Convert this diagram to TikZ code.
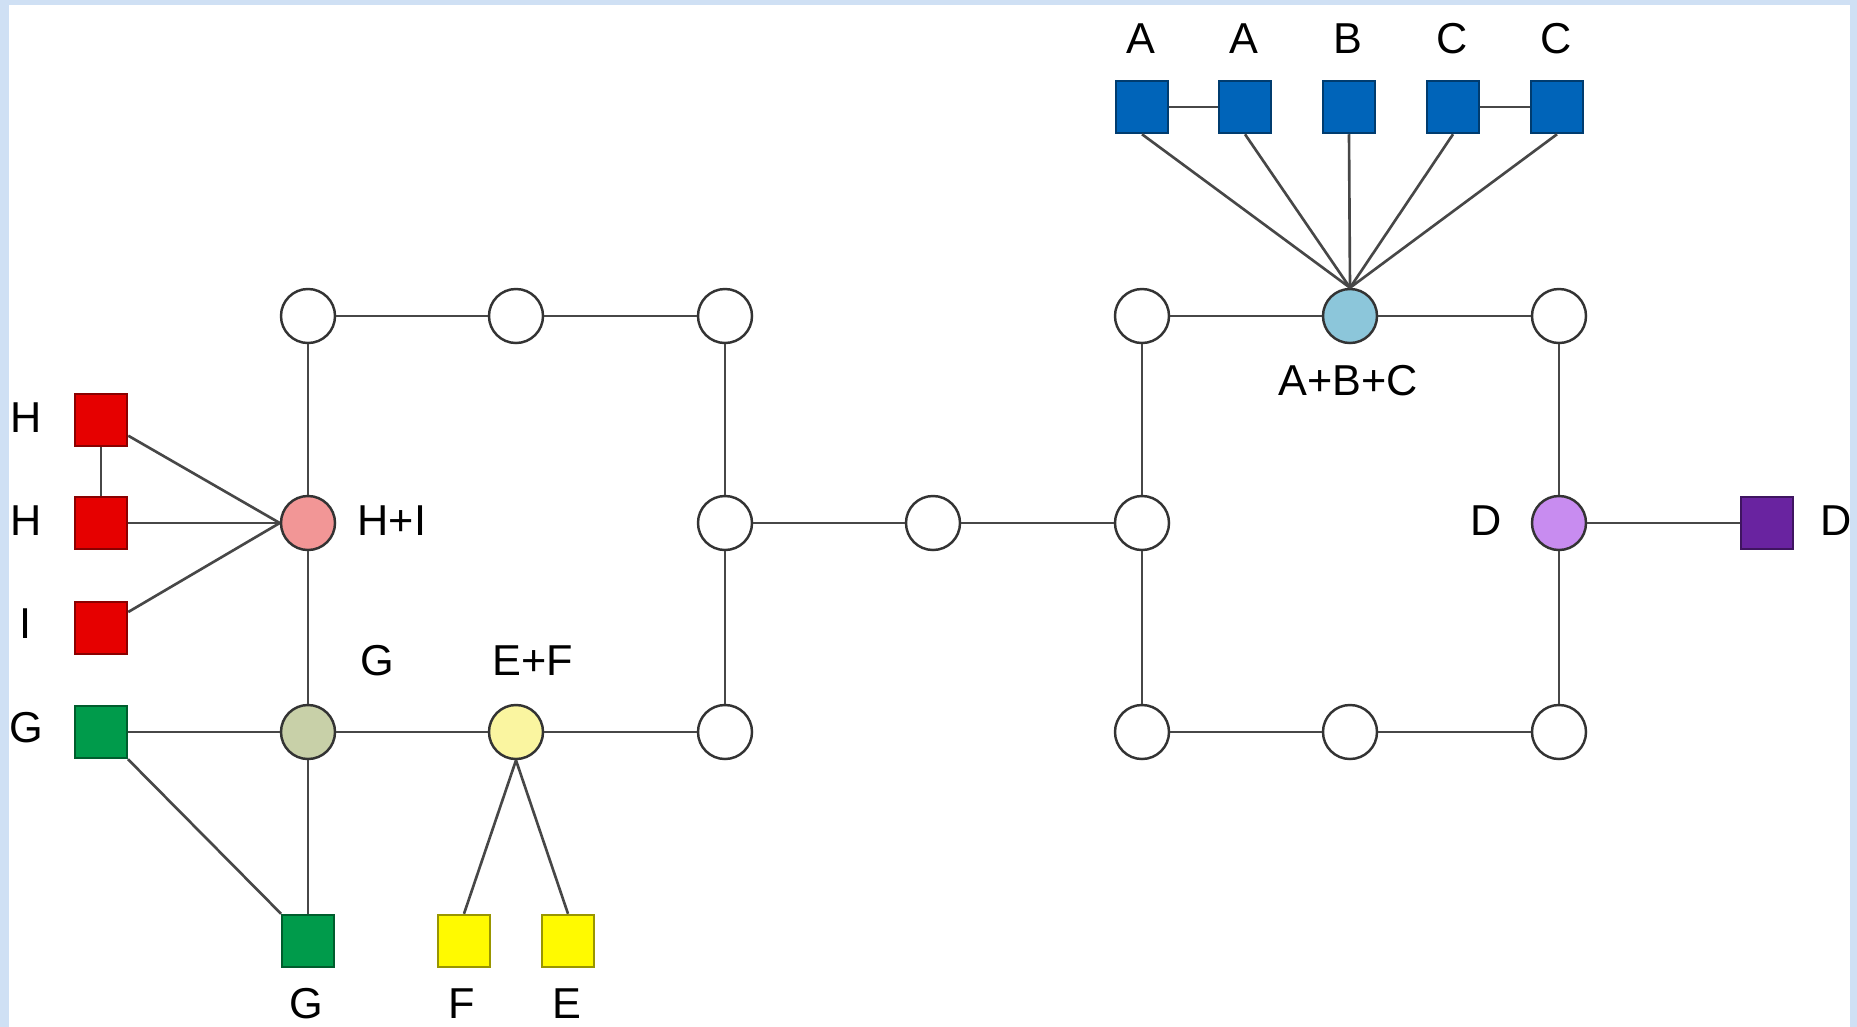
\documentclass[tikz,border=0pt]{standalone}
\usepackage{fontspec}
\setmainfont{Liberation Sans}
\usepackage{xcolor}
\usetikzlibrary{positioning}

\definecolor{pagebg}{RGB}{207,224,244}
\definecolor{sqred}{RGB}{230,0,0}
\definecolor{sqgreen}{RGB}{0,155,75}
\definecolor{sqyellow}{RGB}{255,250,0}
\definecolor{sqblue}{RGB}{0,100,185}
\definecolor{sqpurple}{RGB}{105,35,160}
\definecolor{cpink}{RGB}{242,150,150}
\definecolor{csage}{RGB}{200,208,168}
\definecolor{cyellow}{RGB}{250,245,160}
\definecolor{cblue}{RGB}{140,198,218}
\definecolor{clilac}{RGB}{200,140,240}

\begin{document}
\begin{tikzpicture}[x=0.01cm, y=-0.01cm,
    every node/.style={font=\fontsize{12.3}{14}\selectfont},
    ring/.style={circle, draw=black!80, line width=0.7pt, fill=white, minimum size=0.54cm, inner sep=0pt},
    leaf/.style={rectangle, draw=#1!60!black, fill=#1, line width=0.7pt, minimum size=0.52cm, inner sep=0pt},
    link/.style={draw=black!72, line width=0.75pt},
    txt/.style={inner sep=1pt}]
    % Page
    \fill[pagebg] (0,0) rectangle (1857,1027);
    \fill[white] (9,5) rectangle (1850,1027);

    % Left ring
    \node[ring] (t1) at (308,316) {};
    \node[ring] (t2) at (516,316) {};
    \node[ring] (t3) at (725,316) {};
    \node[ring, fill=cpink] (hi) at (308,523) {};
    \node[ring] (m3) at (725,523) {};
    \node[ring, fill=csage] (gc) at (308,732) {};
    \node[ring, fill=cyellow] (ef) at (516,732) {};
    \node[ring] (b3) at (725,732) {};

    % Bridge
    \node[ring] (m4) at (933,523) {};

    % Right ring
    \node[ring] (t4) at (1142,316) {};
    \node[ring, fill=cblue] (abc) at (1350,316) {};
    \node[ring] (t6) at (1559,316) {};
    \node[ring] (m5) at (1142,523) {};
    \node[ring, fill=clilac] (d) at (1559,523) {};
    \node[ring] (b4) at (1142,732) {};
    \node[ring] (b5) at (1350,732) {};
    \node[ring] (b6) at (1559,732) {};

    % Attached squares
    \node[leaf=sqred] (h1) at (101,420) {};
    \node[leaf=sqred] (h2) at (101,523) {};
    \node[leaf=sqred] (i1) at (101,628) {};
    \node[leaf=sqgreen] (g1) at (101,732) {};
    \node[leaf=sqgreen] (g2) at (308,941) {};
    \node[leaf=sqyellow] (f1) at (464,941) {};
    \node[leaf=sqyellow] (e1) at (568,941) {};
    \node[leaf=sqblue] (a1) at (1142,107) {};
    \node[leaf=sqblue] (a2) at (1245,107) {};
    \node[leaf=sqblue] (bb) at (1349,107) {};
    \node[leaf=sqblue] (c1) at (1453,107) {};
    \node[leaf=sqblue] (c2) at (1557,107) {};
    \node[leaf=sqpurple] (dd) at (1767,523) {};

    % Ring links
    \path[link] (t1) -- (t2) -- (t3) -- (m3) -- (b3) -- (ef) -- (gc) -- (hi) -- (t1);
    \path[link] (m3) -- (m4) -- (m5);
    \path[link] (t4) -- (abc) -- (t6) -- (d) -- (b6) -- (b5) -- (b4) -- (m5) -- (t4);

    % Square links
    \path[link] (h1) -- (h2);
    \foreach \s in {h1,h2,i1} \path[link] (\s) -- (hi.west);
    \path[link] (g1) -- (gc);
    \path[link] (g1) -- (g2);
    \path[link] (gc) -- (g2);
    \path[link] (ef.south) -- (f1.north);
    \path[link] (ef.south) -- (e1.north);
    \path[link] (a1) -- (a2);
    \path[link] (c1) -- (c2);
    \foreach \s in {a1,a2,bb,c1,c2} \path[link] (\s.south) -- (abc.north);
    \path[link] (d) -- (dd);

    % Labels
    \node[txt] (lh1) at (26,418) {H};
    \node[txt] (lh2) at (26,521) {H};
    \node[txt] (li1) at (26,624) {I};
    \node[txt] (lg1) at (26,728) {G};
    \node[txt] (lhi) at (392,521) {H+I};
    \node[txt] (lgc) at (377,661) {G};
    \node[txt] (lef) at (533,661) {E+F};
    \node[txt] (lg2) at (306,1004) {G};
    \node[txt] (lf1) at (462,1004) {F};
    \node[txt] (le1) at (567,1004) {E};
    \node[txt] (la1) at (1141,39) {A};
    \node[txt] (la2) at (1244,39) {A};
    \node[txt] (lbb) at (1348,39) {B};
    \node[txt] (lc1) at (1452,39) {C};
    \node[txt] (lc2) at (1556,39) {C};
    \node[txt] (labc) at (1348,381) {A+B+C};
    \node[txt] (ld) at (1486,521) {D};
    \node[txt] (ldd) at (1836,521) {D};
\end{tikzpicture}
\end{document}
